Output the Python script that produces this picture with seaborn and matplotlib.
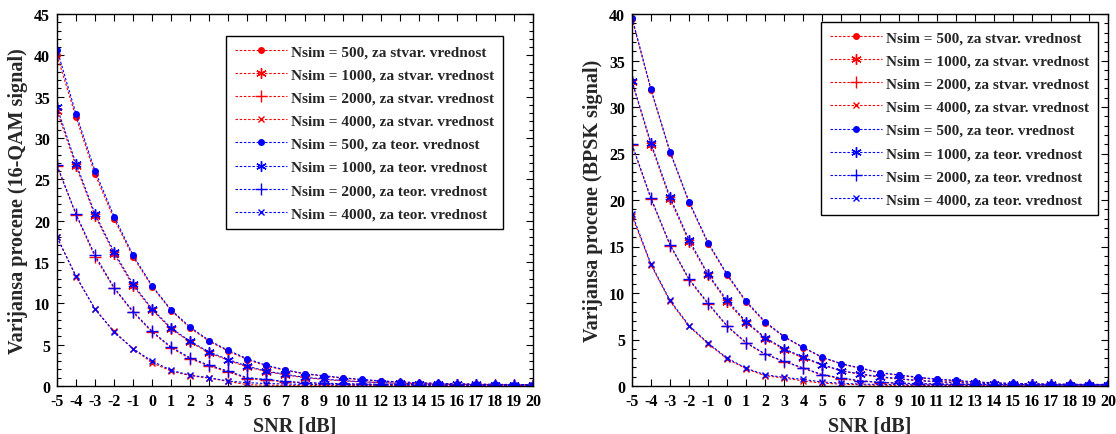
import matplotlib
matplotlib.use("Agg")
import matplotlib.pyplot as plt
import seaborn as sns
from matplotlib.ticker import MultipleLocator

snr = list(range(-5, 21))
nsim = [500, 1000, 2000, 4000]
# MATLAB-like markers: point, asterisk, plus, cross
markers = [".", (6, 2, 0), "+", "x"]
marker_sizes = [8, 7.5, 9, 5]

# 16-QAM, stvarna vrednost (red) and teorijska vrednost (blue)
qam_stvar = [
    [40.0, 32.5, 25.6, 20.2, 15.6, 12.0, 9.1, 7.0, 5.4, 4.2, 3.2, 2.4, 1.9, 1.45, 1.2, 0.95, 0.75, 0.6, 0.48, 0.38, 0.3, 0.25, 0.21, 0.18, 0.16, 0.15],
    [33.3, 26.6, 20.6, 16.0, 12.1, 9.2, 6.9, 5.3, 4.0, 3.1, 2.3, 1.75, 1.35, 1.0, 0.8, 0.62, 0.5, 0.4, 0.32, 0.26, 0.22, 0.19, 0.17, 0.15, 0.14, 0.13],
    [26.6, 20.7, 15.6, 11.8, 8.9, 6.5, 4.6, 3.3, 2.4, 1.7, 0.9, 0.7, 0.5, 0.38, 0.3, 0.25, 0.21, 0.18, 0.16, 0.15, 0.14, 0.13, 0.12, 0.12, 0.11, 0.11],
    [18.0, 13.2, 9.3, 6.6, 4.5, 2.8, 1.8, 1.25, 0.95, 0.55, 0.15, 0.1, 0.08, 0.07, 0.06, 0.06, 0.05, 0.05, 0.05, 0.05, 0.05, 0.05, 0.05, 0.05, 0.05, 0.05],
]
qam_teor = [
    [40.7, 32.9, 26.0, 20.5, 15.8, 12.1, 9.2, 7.1, 5.5, 4.3, 3.3, 2.5, 1.95, 1.5, 1.25, 1.0, 0.8, 0.62, 0.5, 0.4, 0.32, 0.27, 0.23, 0.2, 0.18, 0.17],
    [33.7, 26.9, 20.8, 16.2, 12.3, 9.3, 7.0, 5.4, 4.1, 3.2, 2.4, 1.8, 1.4, 1.05, 0.85, 0.65, 0.52, 0.42, 0.34, 0.28, 0.24, 0.21, 0.19, 0.17, 0.16, 0.15],
    [26.7, 20.8, 15.8, 11.9, 9.0, 6.6, 4.7, 3.4, 2.5, 1.8, 1.0, 0.8, 0.55, 0.42, 0.34, 0.28, 0.24, 0.21, 0.19, 0.17, 0.16, 0.15, 0.14, 0.13, 0.13, 0.12],
    [18.0, 13.3, 9.3, 6.5, 4.5, 3.0, 1.9, 1.3, 1.0, 0.6, 0.4, 0.3, 0.24, 0.2, 0.17, 0.15, 0.14, 0.13, 0.12, 0.12, 0.11, 0.11, 0.1, 0.1, 0.1, 0.1],
]

# BPSK
bpsk_stvar = [
    [39.5, 31.8, 25.1, 19.7, 15.3, 11.9, 9.0, 6.8, 5.25, 4.1, 3.05, 2.35, 1.9, 1.4, 1.15, 0.9, 0.7, 0.55, 0.42, 0.33, 0.26, 0.22, 0.19, 0.17, 0.16, 0.15],
    [32.7, 25.9, 20.1, 15.5, 11.9, 9.0, 6.8, 5.1, 3.9, 3.0, 2.25, 1.6, 1.25, 0.95, 0.75, 0.57, 0.45, 0.36, 0.28, 0.23, 0.2, 0.18, 0.16, 0.15, 0.14, 0.13],
    [25.9, 20.1, 15.1, 11.4, 8.8, 6.4, 4.6, 3.4, 2.6, 1.9, 1.15, 0.8, 0.52, 0.37, 0.29, 0.24, 0.2, 0.17, 0.15, 0.14, 0.13, 0.12, 0.12, 0.11, 0.11, 0.11],
    [18.3, 13.0, 9.1, 6.4, 4.55, 2.9, 1.85, 1.1, 0.85, 0.55, 0.3, 0.2, 0.12, 0.08, 0.07, 0.06, 0.05, 0.05, 0.05, 0.05, 0.05, 0.05, 0.05, 0.05, 0.05, 0.05],
]
bpsk_teor = [
    [39.6, 31.9, 25.2, 19.8, 15.4, 12.0, 9.1, 6.9, 5.3, 4.15, 3.1, 2.4, 1.94, 1.45, 1.2, 0.95, 0.75, 0.6, 0.45, 0.35, 0.28, 0.24, 0.21, 0.19, 0.18, 0.17],
    [32.8, 26.1, 20.3, 15.7, 12.0, 9.2, 6.9, 5.2, 4.0, 3.1, 2.3, 1.65, 1.3, 1.0, 0.8, 0.6, 0.48, 0.38, 0.3, 0.25, 0.21, 0.19, 0.17, 0.16, 0.15, 0.14],
    [26.0, 20.2, 15.2, 11.5, 8.9, 6.45, 4.66, 3.44, 2.65, 1.94, 1.22, 0.86, 0.57, 0.4, 0.32, 0.26, 0.22, 0.19, 0.17, 0.16, 0.15, 0.14, 0.13, 0.13, 0.12, 0.12],
    [18.5, 13.1, 9.2, 6.5, 4.6, 3.0, 1.9, 1.2, 0.93, 0.7, 0.43, 0.3, 0.2, 0.17, 0.15, 0.13, 0.12, 0.11, 0.11, 0.1, 0.1, 0.1, 0.1, 0.1, 0.1, 0.1],
]

sns.set_theme(style="ticks")
plt.rcParams["font.family"] = ["Liberation Serif", "DejaVu Serif"]
plt.rcParams["font.weight"] = "bold"
plt.rcParams["axes.labelweight"] = "bold"
plt.rcParams["axes.unicode_minus"] = False

fig = plt.figure(figsize=(11.16, 4.35), dpi=100)
ax1 = fig.add_axes([57 / 1116, 1 - 387 / 435, 476 / 1116, 372 / 435])
ax2 = fig.add_axes([632 / 1116, 1 - 387 / 435, 476 / 1116, 372 / 435])

dash = (0, (2.2, 1.6))


def draw(ax, stvar, teor, ymax, ylabel, leg_anchor):
    for vals, n, m, ms in zip(stvar, nsim, markers, marker_sizes):
        sns.lineplot(x=snr, y=vals, ax=ax, color="#ff0000", marker=m, markersize=ms,
                     markeredgecolor="#ff0000", markeredgewidth=1.0, linewidth=0.8,
                     linestyle=dash, label=f"Nsim = {n}, za stvar. vrednost")
    for vals, n, m, ms in zip(teor, nsim, markers, marker_sizes):
        sns.lineplot(x=snr, y=vals, ax=ax, color="#0000ff", marker=m, markersize=ms,
                     markeredgecolor="#0000ff", markeredgewidth=1.0, linewidth=0.8,
                     linestyle=dash, label=f"Nsim = {n}, za teor. vrednost")
    ax.set_xlim(-5, 20)
    ax.set_ylim(0, ymax)
    ax.xaxis.set_major_locator(MultipleLocator(1))
    ax.yaxis.set_major_locator(MultipleLocator(5))
    ax.yaxis.set_minor_locator(MultipleLocator(1))
    ax.tick_params(which="both", direction="in", top=True, right=True,
                   labelsize=11.5, width=0.8, colors="black", pad=5)
    ax.tick_params(which="major", length=5)
    ax.tick_params(which="minor", length=3)
    for lbl in ax.get_xticklabels() + ax.get_yticklabels():
        lbl.set_fontweight("bold")
    for sp in ax.spines.values():
        sp.set_linewidth(1.0)
        sp.set_color("black")
    ax.set_xlabel("SNR [dB]", fontsize=14.5, labelpad=5)
    ax.set_ylabel(ylabel, fontsize=14.5, labelpad=4)
    leg = ax.legend(loc="upper right", bbox_to_anchor=leg_anchor,
                    frameon=True, fancybox=False, edgecolor="black", framealpha=1,
                    handlelength=3.4, handletextpad=0.3, labelspacing=0.62,
                    borderpad=0.55, borderaxespad=0.0,
                    prop={"weight": "bold", "size": 11})
    leg.get_frame().set_linewidth(1.0)


draw(ax1, qam_stvar, qam_teor, 45, "Varijansa procene (16-QAM signal)", (0.937, 0.941))
draw(ax2, bpsk_stvar, bpsk_teor, 40, "Varijansa procene (BPSK signal)", (0.979, 0.978))

fig.savefig("out.png", dpi=100)
